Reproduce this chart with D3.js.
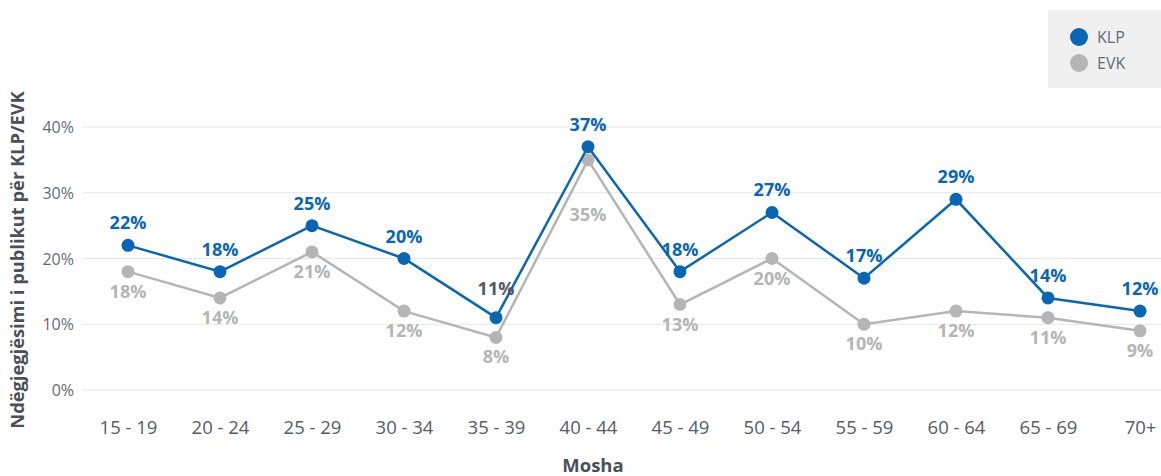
<!DOCTYPE html>
<html><head><meta charset="utf-8">
<script src="https://cdn.jsdelivr.net/npm/d3@7"></script>
<style>
html,body{margin:0;padding:0;background:#fff;}
svg{display:block;font-family:"Open Sans",sans-serif;}
</style></head>
<body><svg id="c" width="1161" height="476"></svg>
<script>
const categories = ["15 - 19","20 - 24","25 - 29","30 - 34","35 - 39","40 - 44","45 - 49","50 - 54","55 - 59","60 - 64","65 - 69","70+"];
const klp = [22,18,25,20,11,37,18,27,17,29,14,12];
const evk = [18,14,21,12,8,35,13,20,10,12,11,9];
const yTicks = [0,10,20,30,40];
const seriesNames = ["KLP","EVK"];

const svg = d3.select("#c");
const blue = "#0866b4", grey = "#b5b5b5";
const x = d3.scalePoint().domain(categories).range([128,1140]);
const y = d3.scaleLinear().domain([0,40]).range([390,127]);

// grid
svg.append("g").selectAll("line").data(yTicks).join("line")
  .attr("x1",82).attr("x2",1161).attr("y1",d=>y(d)).attr("y2",d=>y(d))
  .attr("stroke","#e6e6e6").attr("stroke-width",1);

// y axis
const ya = svg.append("g").attr("transform","translate(74,0)")
  .call(d3.axisLeft(y).tickValues(yTicks).tickFormat(d=>d+"%").tickSize(0).tickPadding(0));
ya.select(".domain").remove();
ya.selectAll("text").attr("font-size",16).attr("fill","#666b73").attr("font-family","Open Sans").attr("dy","0.35em");

// x axis
const xa = svg.append("g").attr("transform","translate(0,428)")
  .call(d3.axisBottom(x).tickSize(0).tickPadding(0));
xa.select(".domain").remove();
xa.selectAll("text").attr("font-size",18.5).attr("fill","#555c66").attr("font-family","Open Sans").attr("dy","0.35em");

// titles
svg.append("text").attr("x",593).attr("y",472).attr("text-anchor","middle")
  .attr("font-size",18.5).attr("font-weight","bold").attr("fill","#4a5059").text("Mosha");
svg.append("text").attr("transform","translate(24,260) rotate(-90)").attr("text-anchor","middle")
  .attr("font-size",18.3).attr("font-weight","bold").attr("fill","#4a5059").text("Ndëgjegjësimi i publikut për KLP/EVK");

const line = d3.line().x((d,i)=>x(categories[i])).y(d=>y(d));
function drawSeries(vals,color){
  svg.append("path").datum(vals).attr("d",line).attr("fill","none")
    .attr("stroke",color).attr("stroke-width",2.5);
  svg.append("g").selectAll("circle").data(vals).join("circle")
    .attr("cx",(d,i)=>x(categories[i])).attr("cy",d=>y(d)).attr("r",6.5).attr("fill",color);
}
drawSeries(evk,grey);
drawSeries(klp,blue);

// labels
const klpMin = d3.min(klp);
svg.append("g").selectAll("text").data(evk).join("text")
  .attr("x",(d,i)=>x(categories[i]))
  .attr("y",(d,i)=> y(d) + ((klp[i]-d) <= 2 ? 61 : 26))
  .attr("text-anchor","middle").attr("font-size",18).attr("font-weight","bold")
  .attr("fill",grey).text(d=>d+"%");
svg.append("g").selectAll("text").data(klp).join("text")
  .attr("x",(d,i)=>x(categories[i]))
  .attr("y",(d,i)=> y(d) - (d === klpMin ? 23 : 16))
  .attr("text-anchor","middle").attr("font-size",18).attr("font-weight","bold")
  .attr("fill",(d,i)=> d === klpMin ? "#505a68" : blue).text(d=>d+"%");

// legend
const lg = svg.append("g");
lg.append("rect").attr("x",1048).attr("y",10).attr("width",113).attr("height",78).attr("fill","#f0f0f0");
const lc = [blue,grey];
seriesNames.forEach((n,i)=>{
  lg.append("circle").attr("cx",1079).attr("cy",37+i*26).attr("r",9).attr("fill",lc[i]);
  lg.append("text").attr("x",1097).attr("y",37+i*26).attr("dy","0.35em")
    .attr("font-size",16).attr("fill","#666b73").text(n);
});
</script></body></html>
